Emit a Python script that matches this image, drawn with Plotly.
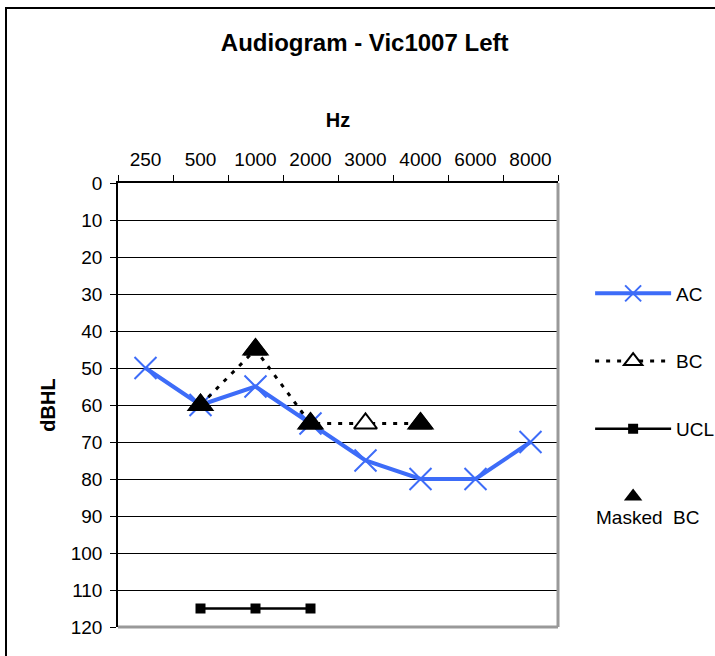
import plotly.graph_objects as go

freqs = ["250", "500", "1000", "2000", "3000", "4000", "6000", "8000"]
ac = [50, 60, 55, 65, 75, 80, 80, 70]
bc_freqs = ["500", "1000", "2000", "3000", "4000"]
bc = [60, 45, 65, 65, 65]
ucl_freqs = ["500", "1000", "2000"]
ucl = [115, 115, 115]
mbc_freqs = ["500", "1000", "2000", "4000"]
mbc = [60, 45, 65, 65]
y_ticks = list(range(0, 121, 10))

FONT = "Liberation Sans, Arial, sans-serif"
BLUE = "#3D6CF8"

fig = go.Figure()
fig.add_trace(go.Scatter(
    x=freqs, y=ac, name="AC", mode="lines+markers",
    line=dict(color=BLUE, width=4),
    marker=dict(symbol="x-thin", size=22, line=dict(color=BLUE, width=2)),
    legendgroup="a",
))
fig.add_trace(go.Scatter(
    x=bc_freqs, y=bc, name="BC", mode="lines+markers",
    line=dict(color="black", width=3, dash="4px,7px"),
    marker=dict(symbol="triangle-up", size=20, color="white", line=dict(color="black", width=2)),
    legendgroup="b",
))
fig.add_trace(go.Scatter(
    x=ucl_freqs, y=ucl, name="UCL", mode="lines+markers",
    line=dict(color="black", width=2.5),
    marker=dict(symbol="square", size=10, color="black"),
    legendgroup="c",
))
fig.add_trace(go.Scatter(
    x=mbc_freqs, y=mbc, name=" ", mode="markers",
    marker=dict(symbol="triangle-up", size=24, color="black"),
    legendgroup="d",
))

fig.update_layout(
    width=715, height=656,
    margin=dict(l=118, r=157, t=183, b=29, autoexpand=False),
    paper_bgcolor="white", plot_bgcolor="white",
    font=dict(family=FONT, size=19, color="black"),
    title=dict(text="<b>Audiogram - Vic1007 Left</b>", x=0.51, xanchor="center",
               y=1 - 43 / 656, yanchor="middle", font=dict(size=24, family=FONT)),
    showlegend=True,
    legend=dict(x=1.073, xanchor="left", y=(627 - 395) / 444, yanchor="middle",
                font=dict(size=19, family=FONT), tracegroupgap=40,
                bgcolor="rgba(0,0,0,0)", itemwidth=76),
    annotations=[
        dict(text="Masked  BC", xref="paper", yref="paper",
             x=(594 - 118) / 440, y=(627 - 517) / 444, xanchor="left", yanchor="middle",
             showarrow=False, font=dict(size=19, family=FONT)),
    ],
    xaxis=dict(
        type="category", categoryorder="array", categoryarray=freqs,
        side="top", tickson="boundaries", ticks="outside", ticklen=6,
        tickcolor="black", showline=True, linecolor="black", linewidth=1.5,
        showgrid=False, zeroline=False, ticklabelstandoff=8,
        title=dict(text="<b>Hz</b>", font=dict(size=20, family=FONT), standoff=16),
        tickfont=dict(size=19, family=FONT),
        range=[-0.5, 7.5],
    ),
    yaxis=dict(
        range=[120, 0], tickvals=y_ticks, ticks="outside", ticklen=6,
        tickcolor="black", showline=True, linecolor="black", linewidth=1.5,
        showgrid=True, gridcolor="black", gridwidth=1, zeroline=False,
        ticklabelstandoff=4,
        title=dict(text="<b>dBHL</b>", font=dict(size=20, family=FONT), standoff=10),
        tickfont=dict(size=19, family=FONT),
    ),
    shapes=[
        dict(type="line", xref="paper", yref="paper", x0=1, x1=1, y0=0, y1=1,
             line=dict(color="#999999", width=3), layer="above"),
        dict(type="line", xref="paper", yref="paper", x0=0, x1=1, y0=0, y1=0,
             line=dict(color="#999999", width=3), layer="above"),
        dict(type="rect", xref="paper", yref="paper",
             x0=(6 - 118) / 440, x1=(730 - 118) / 440,
             y0=(627 - 670) / 444, y1=(627 - 8) / 444,
             line=dict(color="black", width=2)),
    ],
)

fig.write_html("out.html")
